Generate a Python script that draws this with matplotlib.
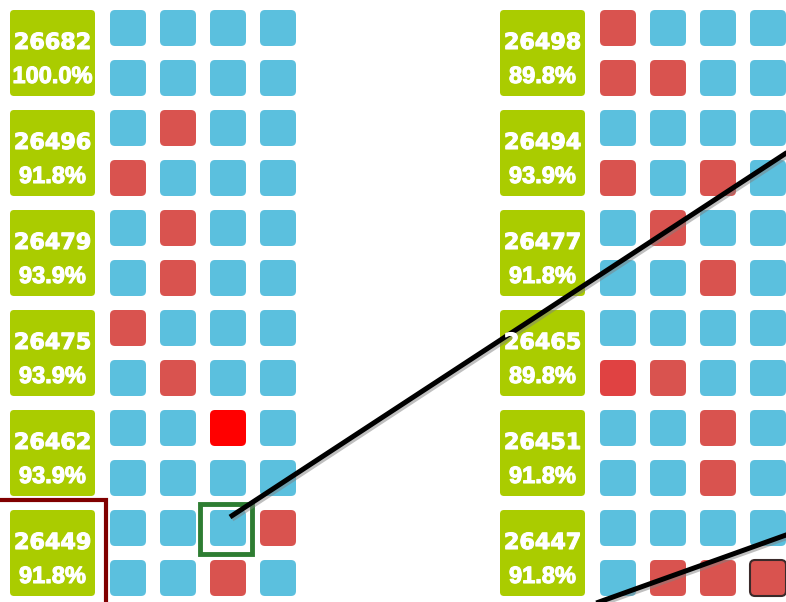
import matplotlib.pyplot as plt
import matplotlib.patheffects as pe
from matplotlib.patches import FancyBboxPatch, Rectangle

# cell codes: 0 = ok (blue), 1 = fail (red), 2 = fail bright, 3 = fail alt
left_ids = [26682, 26496, 26479, 26475, 26462, 26449]
left_pct = [100.0, 91.8, 93.9, 93.9, 93.9, 91.8]
left_cells = [
    [0, 0, 0, 0, 0, 0, 0, 0],
    [0, 1, 0, 0, 1, 0, 0, 0],
    [0, 1, 0, 0, 0, 1, 0, 0],
    [1, 0, 0, 0, 0, 1, 0, 0],
    [0, 0, 2, 0, 0, 0, 0, 0],
    [0, 0, 0, 1, 0, 0, 1, 0],
]

right_ids = [26498, 26494, 26477, 26465, 26451, 26447]
right_pct = [89.8, 93.9, 91.8, 89.8, 91.8, 91.8]
right_cells = [
    [1, 0, 0, 0, 1, 1, 0, 0],
    [0, 0, 0, 0, 1, 0, 1, 0],
    [0, 1, 0, 0, 0, 0, 1, 0],
    [0, 0, 0, 0, 3, 1, 0, 0],
    [0, 0, 1, 0, 0, 0, 1, 0],
    [0, 0, 0, 0, 0, 1, 1, 1],
]

colors = {0: '#5bc0de', 1: '#d9534f', 2: '#ff0000', 3: '#e04242'}
green = '#aacc00'

W, H = 786, 602
fig = plt.figure(figsize=(W / 100, H / 100), dpi=100)
ax = fig.add_axes([0, 0, 1, 1])
ax.set_xlim(0, W)
ax.set_ylim(H, 0)
ax.axis('off')

cell = 36
pitch = 50
box_w, box_h = 85, 86
bold_fx = [pe.withStroke(linewidth=0.8, foreground='white')]


def draw_panel(x0, ids, pcts, cells, highlight=None):
    for g, (num, pct, states) in enumerate(zip(ids, pcts, cells)):
        top = 10 + g * 100
        ax.add_patch(FancyBboxPatch((x0, top), box_w, box_h,
                                    boxstyle='round,pad=0,rounding_size=4',
                                    fc=green, ec='none'))
        cx = x0 + box_w / 2
        ax.text(cx, top + 39, str(num), ha='center', va='baseline',
                color='white', fontsize=16, fontweight='bold', family='DejaVu Sans',
                path_effects=bold_fx)
        ax.text(cx, top + 73, f'{pct:.1f}%', ha='center', va='baseline',
                color='white', fontsize=17, fontweight='bold', family='Liberation Sans',
                path_effects=bold_fx)
        for k, s in enumerate(states):
            r, c = divmod(k, 4)
            ec, lw = 'none', 0
            if highlight == (g, k):
                ec, lw = '#3a2a2a', 1.5
            ax.add_patch(FancyBboxPatch((x0 + 100 + c * pitch, top + r * pitch), cell, cell,
                                        boxstyle='round,pad=0,rounding_size=5',
                                        fc=colors[s], ec=ec, lw=lw))


draw_panel(10, left_ids, left_pct, left_cells)
draw_panel(500, right_ids, right_pct, right_cells, highlight=(5, 7))

# annotation overlays
ax.add_patch(Rectangle((-10, 500), 116, 120, fill=False, ec='#800000', lw=3))
ax.add_patch(Rectangle((200, 504), 52, 50, fill=False, ec='#2e7d32', lw=3.5))

shadow = [pe.SimpleLineShadow(offset=(1.5, -1.5), shadow_color='gray', alpha=0.5), pe.Normal()]
ax.plot([230, 800], [517, 144], color='black', lw=3.6, solid_capstyle='butt',
        path_effects=shadow)
ax.plot([560, 800], [616, 530], color='black', lw=3.6, solid_capstyle='butt',
        path_effects=shadow)

fig.savefig('out.png', dpi=100)
